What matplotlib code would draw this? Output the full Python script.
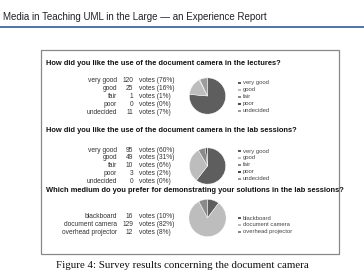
import matplotlib
matplotlib.use("Agg")
import matplotlib.pyplot as plt
from matplotlib.patches import Rectangle
from matplotlib.lines import Line2D

W, H = 364, 275

# survey data
q1_title = "How did you like the use of the document camera in the lectures?"
q1_labels = ["very good", "good", "fair", "poor", "undecided"]
q1_votes = [120, 25, 1, 0, 11]
q1_pct = [76, 16, 1, 0, 7]

q2_title = "How did you like the use of the document camera in the lab sessions?"
q2_labels = ["very good", "good", "fair", "poor", "undecided"]
q2_votes = [95, 49, 10, 3, 0]
q2_pct = [60, 31, 6, 2, 0]

q3_title = "Which medium do you prefer for demonstrating your solutions in the lab sessions?"
q3_labels = ["blackboard", "document camera", "overhead projector"]
q3_votes = [16, 129, 12]
q3_pct = [10, 82, 8]

grades_colors = ["#5e5e5e", "#bdbdbd", "#8a8a8a", "#4a4a4a", "#9c9c9c"]
medium_colors = ["#5e5e5e", "#bdbdbd", "#8a8a8a"]

fig = plt.figure(figsize=(W / 100, H / 100), dpi=100)


def fy(y):
    return 1 - y / H


def fx(x):
    return x / W


# page header
fig.text(fx(3), fy(17), "Media in Teaching UML in the Large \u2014 an Experience Report",
         family="Liberation Sans", fontsize=7.0, va="center", ha="left", color="#222222")
fig.add_artist(Line2D([0, 1], [fy(27), fy(27)], color="#2f5d9e", lw=1.2))

# frame around the image
fig.add_artist(Rectangle((fx(41), fy(254)), fx(339) - fx(41), fy(50) - fy(254),
                         fill=False, edgecolor="#888888", lw=0.9))


def block(title, title_y, labels, votes, pct, rows_y, colors, pie_c, r, leg_y):
    fig.text(fx(46), fy(title_y), title, family="Liberation Sans", weight="bold",
             fontsize=5.4, va="center", ha="left", color="#111111")
    for i, (lab, v, p) in enumerate(zip(labels, votes, pct)):
        y = fy(rows_y + i * 7.8)
        fig.text(fx(117), y, lab, family="Liberation Sans", fontsize=4.8,
                 ha="right", va="center", color="#333333")
        fig.text(fx(133), y, str(v), family="Liberation Sans", fontsize=4.8,
                 ha="right", va="center", color="#333333")
        fig.text(fx(139), y, f"votes ({p}%)", family="Liberation Sans", fontsize=4.8,
                 ha="left", va="center", color="#333333")
    ax = fig.add_axes([fx(pie_c[0] - r), fy(pie_c[1] + r), 2 * r / W, 2 * r / H])
    ax.pie(votes, colors=colors, startangle=90, counterclock=False,
           wedgeprops=dict(linewidth=0.3, edgecolor="white"))
    ax.set_xlim(-1.02, 1.02)
    ax.set_ylim(-1.02, 1.02)
    ax.set_aspect("equal")
    ax.axis("off")
    for i, lab in enumerate(labels):
        y = fy(leg_y + i * 7.0)
        fig.add_artist(Rectangle((fx(238), y - 1.3 / H), 2.6 / W, 2.6 / H,
                                 facecolor=colors[i], edgecolor="none"))
        fig.text(fx(243), y, lab, family="Liberation Sans", fontsize=4.2,
                 ha="left", va="center", color="#444444")


block(q1_title, 64, q1_labels, q1_votes, q1_pct, 81, grades_colors, (207.5, 96), 18.5, 83)
block(q2_title, 131, q2_labels, q2_votes, q2_pct, 150, grades_colors, (207.5, 166), 18.5, 151)
block(q3_title, 191, q3_labels, q3_votes, q3_pct, 217, medium_colors, (207.5, 218), 19, 218)

# caption
fig.text(0.5, fy(266), "Figure 4: Survey results concerning the document camera",
         family="Liberation Serif", fontsize=7.8, ha="center", va="center", color="#111111")

fig.savefig("out.png", dpi=100)
